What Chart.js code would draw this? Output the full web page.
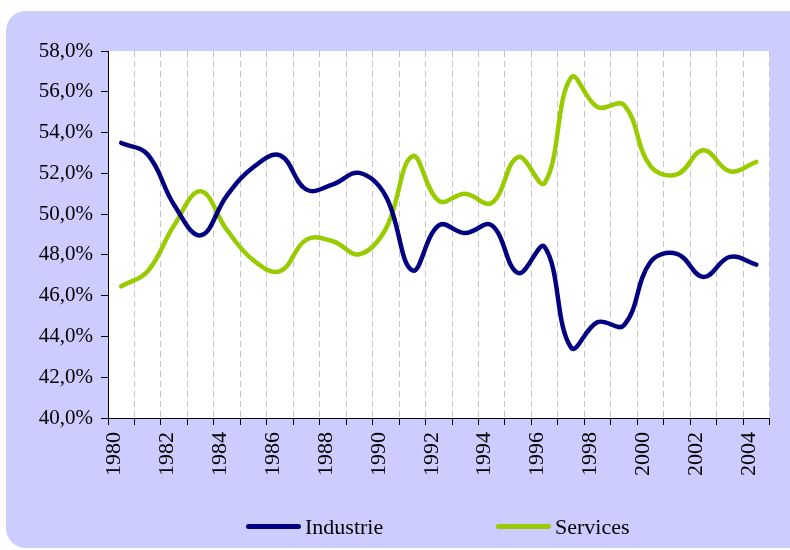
<!DOCTYPE html>
<html>
<head>
<meta charset="utf-8">
<script src="https://cdn.jsdelivr.net/npm/chart.js@4"></script>
<style>
    body { margin: 0; background: #fff; }
    #wrap { position: relative; width: 790px; height: 550px; overflow: hidden; }
    #panel { position: absolute; left: 6px; top: 11px; width: 830px; height: 537px; background: #ccccff; border-radius: 20px; }
    #chartBox { position: absolute; left: 0; top: 0; width: 790px; height: 550px; }
    .legend-line { position: absolute; width: 55px; height: 5px; border-radius: 3px; top: 524px; }
    .legend-text { position: absolute; top: 516px; font: 22px/22px 'Liberation Serif', 'Times New Roman', serif; color: #000; }
</style>
</head>
<body>
<div id="wrap">
    <div id="panel"></div>
    <div id="chartBox"><canvas id="chart"></canvas></div>
    <div id="legend"></div>
</div>
<script>
// Data (share of value added, %)
const years = ['1980', '1981', '1982', '1983', '1984', '1985', '1986', '1987', '1988', '1989',
    '1990', '1991', '1992', '1993', '1994', '1995', '1996', '1997', '1998', '1999',
    '2000', '2001', '2002', '2003', '2004'];
const industrie = [53.49, 52.92, 50.45, 48.96, 50.92, 52.31, 52.88, 51.2, 51.46, 52.02,
    50.87, 47.24, 49.45, 49.07, 49.45, 47.11, 48.39, 43.45, 44.7, 44.55,
    47.65, 48.05, 46.92, 47.9, 47.52];
const services = [46.46, 47.2, 49.45, 51.12, 49.21, 47.73, 47.2, 48.75, 48.67, 48.03,
    49.29, 52.84, 50.65, 51.0, 50.55, 52.8, 51.53, 56.7, 55.25, 55.35,
    52.35, 51.95, 53.13, 52.1, 52.56];
const seriesNames = ['Industrie', 'Services'];
const seriesColors = ['#000080', '#99cc00'];

const serif = "'Liberation Serif', 'Times New Roman', serif";

// White plot area on the lavender panel
const plotBackground = {
    id: 'plotBackground',
    beforeDraw(chart) {
        const { ctx, chartArea: a } = chart;
        ctx.save();
        ctx.fillStyle = '#ffffff';
        ctx.fillRect(a.left, a.top, a.right - a.left, a.bottom - a.top);
        ctx.restore();
    }
};

new Chart(document.getElementById('chart'), {
    type: 'line',
    data: {
        labels: years,
        datasets: [industrie, services].map((values, i) => ({
            label: seriesNames[i],
            data: values,
            borderColor: seriesColors[i],
            backgroundColor: seriesColors[i],
            borderWidth: 4.5,
            borderCapStyle: 'round',
            borderJoinStyle: 'round',
            tension: 0.4,
            pointRadius: 0,
            fill: false
        }))
    },
    options: {
        responsive: true,
        maintainAspectRatio: false,
        animation: false,
        layout: { padding: { left: 0, top: 51, right: 13, bottom: 0 } },
        plugins: {
            legend: { display: false },
            tooltip: { enabled: false }
        },
        scales: {
            x: {
                offset: true,
                // in v4 border.dash sets the dash of the grid lines
                border: { color: '#000', width: 1, dash: [6, 4] },
                grid: {
                    offset: true,
                    color: (ctx) => ctx.index === 0 ? 'rgba(0,0,0,0)' : '#c4c4c4',
                    lineWidth: 1,
                    tickLength: 7,
                    tickColor: '#000',
                    tickBorderDash: []
                },
                ticks: {
                    autoSkip: false,
                    minRotation: 90,
                    maxRotation: 90,
                    padding: 7,
                    labelOffset: -7,
                    color: '#000',
                    font: { family: serif, size: 22 },
                    callback: function (value, index) {
                        return index % 2 === 0 ? years[index] : '';
                    }
                },
                afterFit: function (scale) {
                    scale.height = 132;
                }
            },
            y: {
                min: 40,
                max: 58,
                border: { color: '#000', width: 1 },
                grid: {
                    drawOnChartArea: false,
                    tickLength: 7,
                    tickColor: '#000'
                },
                ticks: {
                    stepSize: 2,
                    padding: 8,
                    color: '#000',
                    font: { family: serif, size: 21 },
                    callback: function (value) {
                        return value.toFixed(1).replace('.', ',') + '%';
                    }
                },
                afterFit: function (scale) {
                    scale.width = 108;
                }
            }
        }
    },
    plugins: [plotBackground]
});

// Legend below the plot
const legendLeft = [246, 496];
const legend = document.getElementById('legend');
seriesNames.forEach((name, i) => {
    const line = document.createElement('div');
    line.className = 'legend-line';
    line.style.left = legendLeft[i] + 'px';
    line.style.background = seriesColors[i];
    const text = document.createElement('div');
    text.className = 'legend-text';
    text.style.left = (legendLeft[i] + 59) + 'px';
    text.textContent = name;
    legend.appendChild(line);
    legend.appendChild(text);
});
</script>
</body>
</html>
